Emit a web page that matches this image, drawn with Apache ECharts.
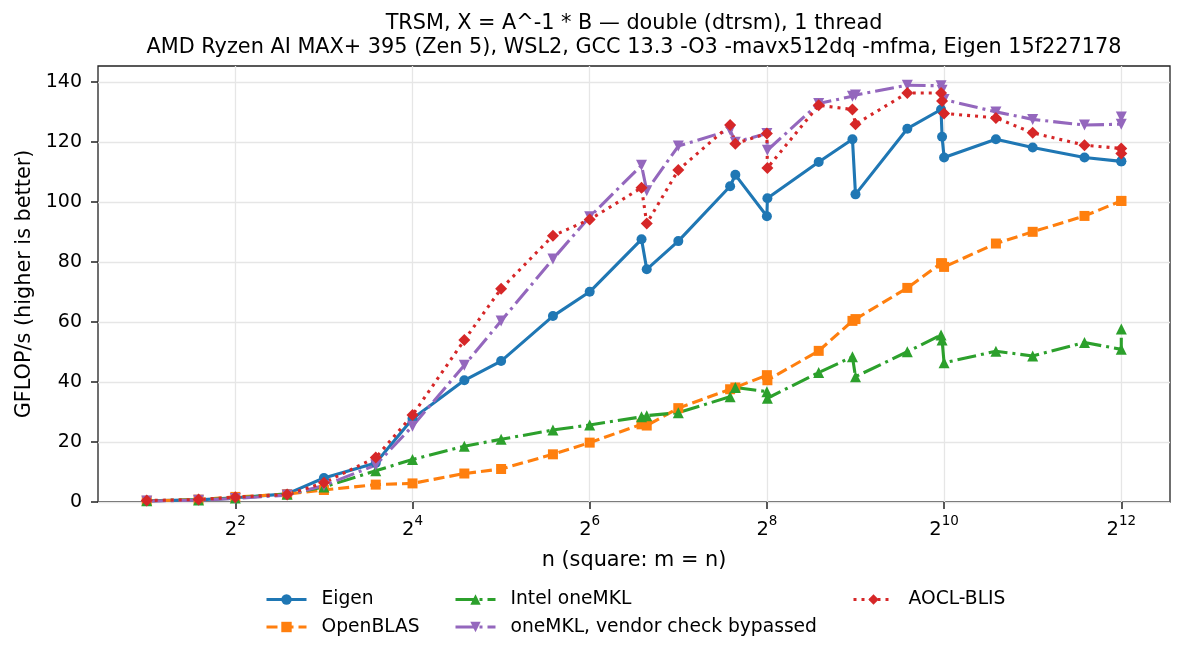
<!DOCTYPE html>
<html>
<head>
<meta charset="utf-8">
<script src="https://cdn.jsdelivr.net/npm/echarts@6/dist/echarts.min.js"></script>
<style>html,body{margin:0;padding:0;background:#fff}#c{width:1185px;height:659px}</style>
</head>
<body>
<div id="c"></div>
<script>
// ---- data ----
const sizes = [2,3,4,6,8,12,16,24,32,48,64,96,100,128,192,200,256,257,384,500,512,768,1000,1008,1024,1536,2048,3072,4096,4097];
const eigen = [0.4,0.7,1.4,2.7,8.0,13.0,27.8,40.6,47.0,62.0,70.1,87.6,77.6,87.0,105.3,109.1,95.3,101.3,113.4,121.0,102.6,124.5,130.9,121.8,114.9,121.0,118.2,114.9,113.6,113.6];
const openblas = [0.4,0.8,1.7,2.6,4.0,5.8,6.2,9.5,11.0,15.9,19.8,25.9,25.5,31.3,37.6,38.2,42.3,40.6,50.4,60.4,61.0,71.4,79.6,79.6,78.4,86.2,90.1,95.4,100.4,100.4];
const onemkl = [0.4,0.7,1.3,2.6,5.0,10.4,14.2,18.6,20.9,24.0,25.7,28.4,28.8,29.8,35.1,38.2,36.8,34.6,43.2,48.4,41.8,50.1,55.7,54.0,46.4,50.3,48.7,53.2,50.9,57.7];
const onemklBypass = [0.3,0.6,1.2,2.3,5.5,12.3,25.3,45.6,60.4,81.0,95.1,112.3,103.8,118.7,124.0,120.0,122.9,117.3,132.9,135.3,135.7,139.0,138.8,137.3,134.2,130.1,127.6,125.7,126.0,128.4];
const aocl = [0.5,0.8,1.6,2.5,6.4,14.8,29.0,54.0,71.1,88.8,94.2,104.8,92.9,110.7,125.7,119.5,122.9,111.4,132.3,130.9,126.0,136.4,136.4,133.7,129.6,128.1,123.1,119.0,117.9,116.2];
const xTickExps = [2,4,6,8,10,12];
const yTicks = [0,20,40,60,80,100,120,140];
const titleLines = ['TRSM, X = A^-1 * B \u2014 double (dtrsm), 1 thread',
                    'AMD Ryzen AI MAX+ 395 (Zen 5), WSL2, GCC 13.3 -O3 -mavx512dq -mfma, Eigen 15f227178'];

const FONT = 'DejaVu Sans';
const pts = arr => sizes.map((n, i) => [Math.log2(n), arr[i]]);
const LW = 3.1;

function mk(name, arr, color, dash, symbol, size, rotate) {
  return {
    name, type: 'line', data: pts(arr), color,
    symbol, symbolSize: size, symbolRotate: rotate || 0, showSymbol: true,
    lineStyle: { width: LW, type: dash, color, cap: 'butt' },
    itemStyle: { color, borderWidth: 0 },
    emphasis: { disabled: true }, animation: false
  };
}

const chart = echarts.init(document.getElementById('c'), null, { renderer: 'canvas' });
const legendCommon = {
  orient: 'vertical', itemWidth: 40, itemHeight: 13, itemGap: 8.5, padding: 0,
  lineStyle: { width: 3 },
  textStyle: { fontFamily: FONT, fontSize: 18.7, color: '#000', padding: [0, 0, 0, 10] }, selectedMode: false
};
chart.setOption({
  animation: false,
  backgroundColor: '#fff',
  graphic: titleLines.map((t, i) => ({
    type: 'text', x: 634, y: 24 + i * 23.5,
    style: { text: t, font: '20.8px "DejaVu Sans"', fill: '#000', textAlign: 'center', textVerticalAlign: 'middle' }
  })),
  grid: { left: 98, right: 15, top: 66, bottom: 157, show: true, borderColor: '#222', borderWidth: 1.3, backgroundColor: 'transparent' },
  xAxis: {
    type: 'value', min: 0.45, max: 12.55,
    name: 'n (square: m = n)', nameLocation: 'middle', nameGap: 48,
    nameTextStyle: { fontFamily: FONT, fontSize: 20.8, color: '#000' },
    axisLine: { show: false },
    axisTick: { show: true, length: 7, lineStyle: { color: '#222', width: 1.5 }, customValues: xTickExps },
    axisLabel: {
      customValues: xTickExps, margin: 12, color: '#000',
      formatter: v => (Number.isInteger(v) && v % 2 === 0) ? '{b|2}{s|' + v + '}' : '',
      rich: {
        b: { fontFamily: FONT, fontSize: 19.5, color: '#000', lineHeight: 26, verticalAlign: 'bottom' },
        s: { fontFamily: FONT, fontSize: 13.5, color: '#000', lineHeight: 26, verticalAlign: 'top' }
      }
    },
    splitLine: { show: true, lineStyle: { color: '#e6e6e6', width: 1.3 } }
  },
  yAxis: {
    type: 'value', min: 0, max: 145.4, interval: 20,
    name: 'GFLOP/s (higher is better)', nameLocation: 'middle', nameGap: 63,
    nameTextStyle: { fontFamily: FONT, fontSize: 20.8, color: '#000' },
    axisLine: { show: false },
    axisTick: { show: true, length: 7, lineStyle: { color: '#222', width: 1.5 }, customValues: yTicks },
    axisLabel: { customValues: yTicks, fontFamily: FONT, fontSize: 19, color: '#000', margin: 16,
      formatter: v => (v % 20 === 0) ? String(v) : '' },
    splitLine: { show: true, lineStyle: { color: '#e6e6e6', width: 1.3 } }
  },
  legend: [
    Object.assign({ left: 265, top: 590, data: ['Eigen', 'OpenBLAS'] }, legendCommon),
    Object.assign({ left: 454, top: 590, data: ['Intel oneMKL', 'oneMKL, vendor check bypassed'] }, legendCommon),
    Object.assign({ left: 852, top: 590, data: ['AOCL-BLIS'] }, legendCommon)
  ],
  series: [
    mk('Eigen', eigen, '#1f77b4', 'solid', 'circle', 10),
    mk('OpenBLAS', openblas, '#ff7f0e', [11, 5], 'rect', 10),
    mk('Intel oneMKL', onemkl, '#2ca02c', [19, 5, 3, 5], 'triangle', 11),
    mk('oneMKL, vendor check bypassed', onemklBypass, '#9467bd', [19, 5, 3, 5], 'triangle', 11, 180),
    mk('AOCL-BLIS', aocl, '#d62728', [3, 5], 'diamond', 12)
  ]
});
</script>
</body>
</html>
